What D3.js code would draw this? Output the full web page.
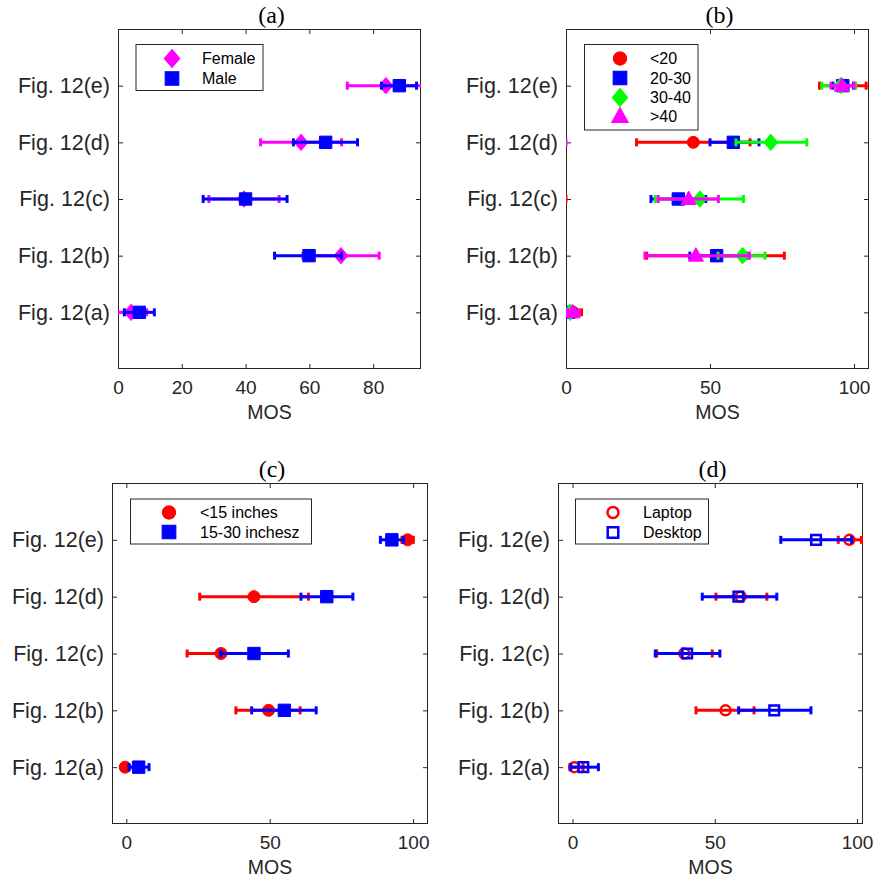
<!DOCTYPE html>
<html><head><meta charset="utf-8">
<script src="https://cdn.jsdelivr.net/npm/d3@7"></script>
<style>body{margin:0;background:#fff}svg{display:block}</style>
</head><body><svg id="c" width="881" height="882"></svg>
<script>
// ---------- data ----------
const categories = ["Fig. 12(a)","Fig. 12(b)","Fig. 12(c)","Fig. 12(d)","Fig. 12(e)"];
const panelTitles = ["(a)","(b)","(c)","(d)"];
const xLabel = "MOS";

// panel (a): gender
const aNames = ["Female","Male"];
const aFemaleMean = [4.1, 69.9, 39.5, 57.4, 84.0];
const aFemaleLo   = [-1, 58.0, 28.5, 44.7, 71.9];
const aFemaleHi   = [9.0, 81.9, 50.5, 70.1, 97.5];
const aMaleMean   = [6.7, 59.9, 40.0, 65.1, 88.2];
const aMaleLo     = [2.0, 49.1, 26.7, 55.0, 82.6];
const aMaleHi     = [11.4, 70.1, 53.0, 75.1, 93.6];
const aTicks = [0,20,40,60,80];

// panel (b): age
const bNames = ["<20","20-30","30-40",">40"];
const bU20Mean = [2.5, 52.1, -3, 44.2, 96.0];
const bU20Lo   = [0.5, 28.0, -6, 24.5, 88.0];
const bU20Hi   = [5.4, 75.8, 0, 63.9, 104.2];
const b2030Mean = [0.8, 52.3, 39.0, 58.1, 96.1];
const b2030Lo   = [-0.5, 43.0, 29.5, 50.0, 92.7];
const b2030Hi   = [2.5, 62.7, 48.5, 67.0, 99.8];
const b3040Mean = [1.4, 61.3, 46.5, 71.1, 95.4];
const b3040Lo   = [0.0, 52.8, 31.0, 59.0, 88.8];
const b3040Hi   = [3.0, 69.1, 61.6, 83.6, 100.5];
const bO40Mean = [2.3, 45.1, 42.6, -3, 95.8];
const bO40Lo   = [0.5, 27.4, 32.0, -6, 92.0];
const bO40Hi   = [4.5, 63.7, 52.9, 0, 100.0];
const bTicks = [0,50,100];

// panel (c): screen size
const cNames = ["<15 inches","15-30 inchesz"];
const cSmallMean = [-0.4, 49.6, 33.0, 44.5, 98.1];
const cSmallLo   = [-1.5, 38.2, 21.2, 25.6, 96.1];
const cSmallHi   = [0.8, 60.6, 44.9, 63.5, 100.1];
const cMidMean = [4.3, 55.1, 44.5, 69.9, 92.6];
const cMidLo   = [0.9, 43.7, 32.9, 60.9, 88.6];
const cMidHi   = [7.9, 66.2, 56.5, 79.0, 96.7];
const cTicks = [0,50,100];

// panel (d): device
const dNames = ["Laptop","Desktop"];
const dLapMean = [0.6, 53.8, 39.3, 59.1, 97.3];
const dLapLo   = [-0.9, 43.4, 29.6, 50.4, 93.4];
const dLapHi   = [3.7, 63.8, 49.1, 68.3, 101.6];
const dDeskMean = [3.8, 70.9, 40.3, 58.3, 85.6];
const dDeskLo   = [-0.6, 58.4, 29.1, 45.6, 73.2];
const dDeskHi   = [9.1, 83.8, 51.8, 71.8, 98.1];
const dTicks = [0,50,100];

const RED="#ff0000", BLUE="#0000ff", GREEN="#00ff00", MAG="#ff00ff";
const AX="#262626";

const panels = [
 {title:panelTitles[0], left:118, top:29, w:303, h:340, dom:[0,95], ticks:aTicks,
  legend:{x:136,y:44.5,w:127,h:46,mx:172,tx:202,rows:[58.5,78.5]},
  series:[
   {name:aNames[0], color:MAG, shape:"diamond", filled:true, mean:aFemaleMean, lo:aFemaleLo, hi:aFemaleHi},
   {name:aNames[1], color:BLUE, shape:"square", filled:true, mean:aMaleMean, lo:aMaleLo, hi:aMaleHi}]},
 {title:panelTitles[1], left:566, top:29, w:303, h:340, dom:[0,105.2], ticks:bTicks,
  legend:{x:584.5,y:44.5,w:113.5,h:85.5,mx:620,tx:650,rows:[58.5,78,97.5,116.5]},
  series:[
   {name:bNames[0], color:RED, shape:"circle", filled:true, mean:bU20Mean, lo:bU20Lo, hi:bU20Hi},
   {name:bNames[1], color:BLUE, shape:"square", filled:true, mean:b2030Mean, lo:b2030Lo, hi:b2030Hi},
   {name:bNames[2], color:GREEN, shape:"diamond", filled:true, mean:b3040Mean, lo:b3040Lo, hi:b3040Hi},
   {name:bNames[3], color:MAG, shape:"triangle", filled:true, mean:bO40Mean, lo:bO40Lo, hi:bO40Hi}]},
 {title:panelTitles[2], left:112, top:483, w:316, h:341, dom:[-5,105.2], ticks:cTicks,
  legend:{x:130.5,y:499,w:181,h:45,mx:169,tx:200,rows:[512.5,532]},
  series:[
   {name:cNames[0], color:RED, shape:"circle", filled:true, mean:cSmallMean, lo:cSmallLo, hi:cSmallHi},
   {name:cNames[1], color:BLUE, shape:"square", filled:true, mean:cMidMean, lo:cMidLo, hi:cMidHi}]},
 {title:panelTitles[3], left:558, top:483, w:305, h:341, dom:[-5.1,102.1], ticks:dTicks,
  legend:{x:575.5,y:499,w:133,h:45,mx:613,tx:643,rows:[512.5,532.5]},
  series:[
   {name:dNames[0], color:RED, shape:"circle", filled:false, mean:dLapMean, lo:dLapLo, hi:dLapHi},
   {name:dNames[1], color:BLUE, shape:"square", filled:false, mean:dDeskMean, lo:dDeskLo, hi:dDeskHi}]}
];

function shapePath(shape, filled){
  if(shape==="circle"){ const r = filled?6:5; const p=d3.path(); p.arc(0,0,r,0,2*Math.PI); p.closePath(); return p.toString(); }
  if(shape==="square"){ const s = filled?6.2:4.8; return `M${-s},${-s}H${s}V${s}H${-s}Z`; }
  if(shape==="diamond"){ return "M0,-8.2L7,0L0,8.2L-7,0Z"; }
  if(shape==="triangle"){ return "M0,-8L7.5,5.5L-7.5,5.5Z"; }
}

const svg = d3.select("#c");
const font = "'Liberation Sans', Arial, sans-serif";

panels.forEach((P,pi)=>{
  const x = d3.scaleLinear().domain(P.dom).range([P.left, P.left+P.w]);
  const y = d3.scaleLinear().domain([0,6]).range([P.top+P.h, P.top]);
  const g = svg.append("g");
  const clipId = "clip"+pi;
  svg.append("clipPath").attr("id",clipId).append("rect")
    .attr("x",P.left).attr("y",P.top).attr("width",P.w).attr("height",P.h);

  const bottom = P.top+P.h, right = P.left+P.w;
  const xAxB = d3.axisBottom(x).tickValues(P.ticks).tickSize(-5).tickPadding(12).tickFormat(d3.format("d"));
  const gxb = g.append("g").attr("transform",`translate(0,${bottom})`).call(xAxB);
  const xAxT = d3.axisTop(x).tickValues(P.ticks).tickSize(-5).tickFormat("");
  const gxt = g.append("g").attr("transform",`translate(0,${P.top})`).call(xAxT);
  const yAxL = d3.axisLeft(y).tickValues([1,2,3,4,5]).tickSize(-5).tickPadding(8).tickFormat(d=>categories[d-1]);
  const gyl = g.append("g").attr("transform",`translate(${P.left},0)`).call(yAxL);
  const yAxR = d3.axisRight(y).tickValues([1,2,3,4,5]).tickSize(-5).tickFormat("");
  const gyr = g.append("g").attr("transform",`translate(${right},0)`).call(yAxR);
  [gxb,gxt,gyl,gyr].forEach(a=>{
    a.select(".domain").remove();
    a.selectAll("line").attr("stroke",AX).attr("stroke-width",1);
    a.selectAll("text").attr("fill",AX).style("font-family",font);
  });
  gxb.selectAll("text").attr("dy","0.71em").style("font-size","19px");
  gyl.selectAll("text").style("font-size","21.5px");
  g.append("rect").attr("x",P.left+0.5).attr("y",P.top+0.5).attr("width",P.w-1).attr("height",P.h-1)
    .attr("fill","none").attr("stroke",AX).attr("stroke-width",1);

  g.append("text").attr("x",(P.left+right)/2).attr("y",bottom+50).attr("text-anchor","middle")
    .attr("fill",AX).style("font-family",font).style("font-size","19.5px").text(xLabel);
  g.append("text").attr("x",(P.left+right)/2+2).attr("y",P.top-6).attr("text-anchor","middle")
    .attr("fill","#000").style("font-family","'Liberation Serif','Times New Roman',serif").style("font-size","24px").text(P.title);

  const dg = g.append("g").attr("clip-path",`url(#${clipId})`);
  P.series.forEach(S=>{
    const sg = dg.append("g");
    categories.forEach((c,i)=>{
      const yy = y(i+1);
      sg.append("line").attr("x1",x(S.lo[i])).attr("x2",x(S.hi[i])).attr("y1",yy).attr("y2",yy)
        .attr("stroke",S.color).attr("stroke-width",3);
      [S.lo[i],S.hi[i]].forEach(v=>{
        sg.append("line").attr("x1",x(v)).attr("x2",x(v)).attr("y1",yy-4).attr("y2",yy+4)
          .attr("stroke",S.color).attr("stroke-width",3);
      });
      sg.append("path").attr("d",shapePath(S.shape,S.filled)).attr("transform",`translate(${x(S.mean[i])},${yy})`)
        .attr("fill",S.filled?S.color:"none").attr("stroke",S.color).attr("stroke-width",S.filled?1:2.5);
    });
  });

  const L = P.legend;
  g.append("rect").attr("x",L.x).attr("y",L.y).attr("width",L.w).attr("height",L.h)
    .attr("fill","#fff").attr("stroke",AX).attr("stroke-width",1);
  P.series.forEach((S,k)=>{
    g.append("path").attr("d",shapePath(S.shape,S.filled)).attr("transform",`translate(${L.mx},${L.rows[k]}) scale(1.1)`)
      .attr("fill",S.filled?S.color:"none").attr("stroke",S.color).attr("stroke-width",S.filled?1:2.3);
    g.append("text").attr("x",L.tx).attr("y",L.rows[k]).attr("dy","0.35em").attr("fill","#000")
      .style("font-family",font).style("font-size","16px").text(S.name);
  });
});
</script></body></html>
